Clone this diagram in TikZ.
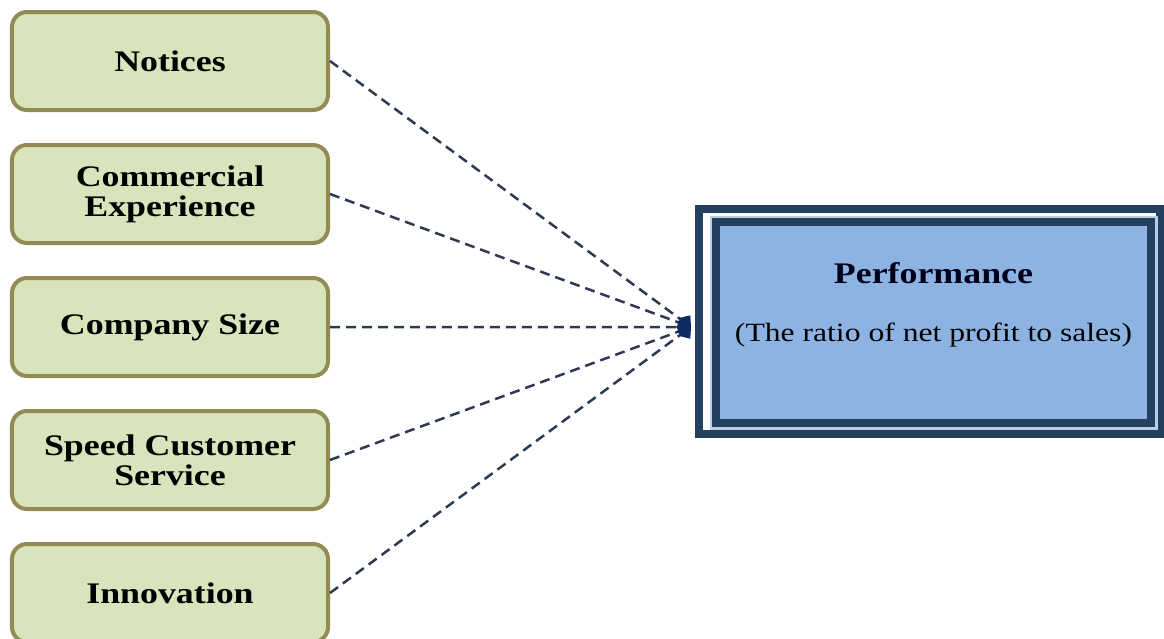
\documentclass[tikz,border=0pt]{standalone}
\usepackage{fontspec}
\setmainfont{Liberation Serif}[FakeStretch=1.2]
\usetikzlibrary{positioning,arrows.meta}
\usepackage{xcolor}

\definecolor{factorfill}{HTML}{D8E4BC}
\definecolor{factoredge}{HTML}{948A54}
\definecolor{perffill}{HTML}{8DB3E2}
\definecolor{perfedge}{HTML}{243F60}
\definecolor{perflight}{HTML}{B9CDE5}
\definecolor{linkcol}{HTML}{2E3A52}
\definecolor{tipcol}{HTML}{0D2A63}

\begin{document}
\begin{tikzpicture}[node distance=0.62cm, every node/.style={font=\fontsize{17}{17}\selectfont\bfseries, inner sep=2pt},
    factor/.style={draw=factoredge, fill=factorfill, line width=0.08cm, rounded corners=0.3cm, minimum width=6.32cm, minimum height=1.96cm, align=center},
    frame/.style={draw=perfedge, fill=white, line width=0.16cm, minimum width=9.22cm, minimum height=4.5cm},
    perfbox/.style={draw=perfedge, fill=perffill, line width=0.16cm, minimum width=8.7cm, minimum height=4.02cm, preaction={draw=perflight, line width=0.26cm}},
    link/.style={linkcol, line width=0.05cm, dash pattern=on 0.2cm off 0.12cm, -{Diamond[length=0.3cm, width=0.36cm, color=tipcol]}}]
            \useasboundingbox (0,0) rectangle (23.28,-12.78);
            \node[factor] (notices) at (3.4,-1.22) {Notices};
            \node[factor, below=of notices] (experience) {Commercial\\Experience};
            \node[factor, below=of experience] (size) {Company Size};
            \node[factor, below=of size] (service) {Speed Customer\\Service};
            \node[factor, below=of service] (innovation) {Innovation};
            \node[frame] (frame) at (18.59,-6.43) {};
            \node[perfbox] (perf) at (18.67,-6.45) {};
            \node[text=black!90!blue] (perftitle) at ([yshift=0.98cm]perf.center) {Performance};
            \node[font=\fontsize{15}{15}\selectfont] (perfnote) at ([yshift=-0.25cm]perf.center) {(The ratio of net profit to sales)};
            \coordinate (hub) at (13.82,-6.54);
            \draw[link] (notices.east) -- (hub);
            \draw[link] (experience.east) -- (hub);
            \draw[link] (size.east) -- (hub);
            \draw[link] (service.east) -- (hub);
            \draw[link] (innovation.east) -- (hub);
        \end{tikzpicture}
\end{document}
